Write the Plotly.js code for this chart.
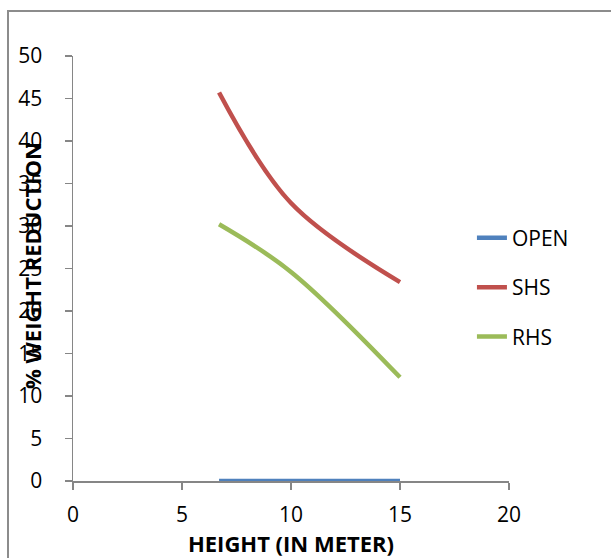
<!DOCTYPE html>
<html>
<head>
<meta charset="utf-8">
<script src="https://cdn.plot.ly/plotly-3.0.1.min.js"></script>
<style>
  html, body { margin: 0; padding: 0; background: #ffffff; }
  #wrap { position: relative; width: 611px; height: 558px; overflow: hidden; }
  #chart { position: absolute; left: 0; top: 0; width: 611px; height: 558px; }
  #frame { position: absolute; left: 7px; top: 10px; width: 700px; height: 700px;
           border: 2px solid #8c8c8c; box-sizing: border-box; pointer-events: none; }
</style>
</head>
<body>
<div id="wrap">
  <div id="chart"></div>
  <div id="frame"></div>
</div>
<script>
// Data
const heights = [6.7, 10, 15];
const openVals = [0, 0, 0];
const shsVals = [45.7, 32.7, 23.4];
const rhsVals = [30.2, 24.6, 12.2];
const seriesNames = ['OPEN', 'SHS', 'RHS'];
const seriesColors = ['#4F81BD', '#C0504D', '#9BBB59'];
const xTicks = [0, 5, 10, 15, 20];
const yTicks = [0, 5, 10, 15, 20, 25, 30, 35, 40, 45, 50];

const font = 'Open Sans, Noto Sans, Liberation Sans, sans-serif';
const valsList = [openVals, shsVals, rhsVals];

const traces = seriesNames.map((name, i) => ({
  type: 'scatter',
  mode: 'lines',
  name: name,
  x: heights,
  y: valsList[i],
  line: { color: seriesColors[i], width: 4.5, shape: 'spline', smoothing: 1 },
  legendgroup: name
}));

const layout = {
  width: 611,
  height: 558,
  margin: { l: 73, r: 102, t: 56, b: 77 },
  paper_bgcolor: 'rgba(0,0,0,0)',
  plot_bgcolor: 'rgba(0,0,0,0)',
  font: { family: font, size: 21, color: '#000000' },
  showlegend: true,
  legend: {
    x: 0.915, xanchor: 'left', y: 0.456, yanchor: 'middle',
    font: { family: font, size: 21, color: '#000000' },
    traceorder: 'grouped', tracegroupgap: 19,
    bgcolor: 'rgba(0,0,0,0)'
  },
  xaxis: {
    range: [0, 20],
    tickvals: xTicks,
    ticktext: xTicks.map(String),
    ticks: 'outside', ticklen: 7, tickwidth: 1.5, tickcolor: '#868686',
    showline: true, linecolor: '#868686', linewidth: 1.5,
    showgrid: false, zeroline: false,
    ticklabelstandoff: 7,
    title: { text: '<b>HEIGHT (IN METER)</b>', font: { family: font, size: 22, color: '#000' }, standoff: 2 }
  },
  yaxis: {
    range: [0, 50],
    tickvals: yTicks,
    ticktext: yTicks.map(String),
    ticks: 'outside', ticklen: 7, tickwidth: 1.5, tickcolor: '#868686',
    showline: true, linecolor: '#868686', linewidth: 1.5,
    showgrid: false, zeroline: false,
    ticklabelstandoff: 18
  },
  annotations: [{
    text: '<b>% WEIGHT REDUCTION</b>',
    xref: 'paper', yref: 'paper',
    x: -0.094, y: 0.506,
    xanchor: 'center', yanchor: 'middle',
    textangle: -90, showarrow: false,
    font: { family: font, size: 22, color: '#000' }
  }]
};

Plotly.newPlot('chart', traces, layout, { displayModeBar: false, staticPlot: true });
</script>
</body>
</html>
